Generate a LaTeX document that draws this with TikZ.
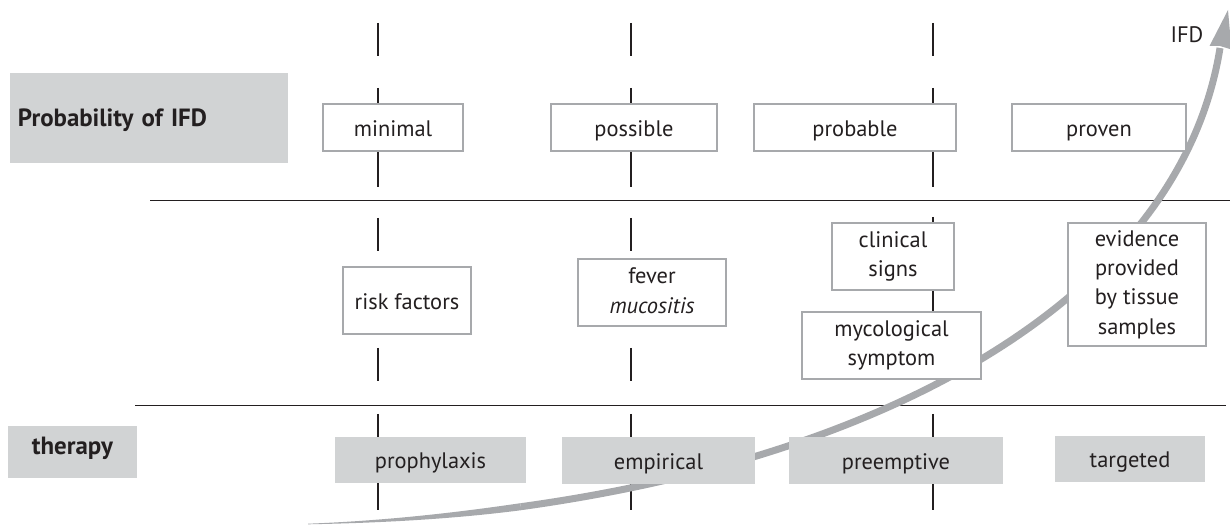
\documentclass[tikz,border=0pt]{standalone}
\usepackage{fontspec}
\setmainfont{PT Sans}
\definecolor{boxgray}{HTML}{A7A9AC}
\definecolor{fillgray}{HTML}{D1D3D4}
\definecolor{arrowgray}{HTML}{A7A9AC}
\definecolor{inkblack}{HTML}{231F20}
\newcommand\boxstrut{\vrule width0pt height22bp depth4bp\relax}
\newcommand\lowstrut{\vrule width0pt height15bp depth13bp\relax}
\begin{document}
\begin{tikzpicture}[x=1bp,y=-1bp,
  every node/.style={inner sep=0pt, outer sep=0pt, align=center, text=inkblack,
    font=\fontsize{22.5}{29.5}\selectfont},
  strutted/.style={execute at begin node=\boxstrut, execute at end node=\boxstrut},
  probbox/.style={strutted, draw=boxgray, line width=1.4bp, fill=white},
  termbox/.style={strutted, fill=fillgray},
  headbox/.style={fill=fillgray, font=\fontsize{25}{29}\selectfont\bfseries},
  tick/.style={draw=inkblack, line width=1.8bp},
  rule/.style={draw=inkblack, line width=1bp}]
\useasboundingbox (0,0) rectangle (1230,529);

% horizontal rules
\coordinate (r1a) at (150,201); \coordinate (r1b) at (1230,201);
\coordinate (r2a) at (135,406); \coordinate (r2b) at (1226,406);
\draw[rule] (r1a) -- (r1b);
\draw[rule] (r2a) -- (r2b);

% vertical dashed markers
\foreach \x in {378,631}{
  \draw[tick] (\x,23) -- (\x,56);
  \draw[tick] (\x,88) -- (\x,187);
  \draw[tick] (\x,218) -- (\x,251);
  \draw[tick] (\x,348) -- (\x,381);
  \draw[tick] (\x,414) -- (\x,510);
}
\draw[tick] (933,23) -- (933,56);
\draw[tick] (933,88) -- (933,187);
\draw[tick] (933,217) -- (933,380);
\draw[tick] (933,414) -- (933,510);

% IFD arrow: tapered tail, constant shaft, head
\coordinate (tail) at (308,524);
\coordinate (split) at (520.8,506.7);
\coordinate (shaftend) at (1220,48);
\coordinate (tip) at (1228,10);
\fill[arrowgray] (308,523.7) .. controls (381.8,520.9) and (452.5,513.2) .. (520.3,503.2)
  -- (521.3,510.2) .. controls (453.5,519.0) and (381.8,522.9) .. (308,524.3) -- cycle;
\draw[arrowgray, line width=7bp] (split) .. controls (905.1,453.7) and (1181.8,287.7) .. (shaftend);
\fill[arrowgray] (tip) -- (1231.5,49.5) -- (1220,46) -- (1209.5,46) -- cycle;
\node (ifd) at (1187,35) {IFD};

% labels on the left
\node[headbox, minimum height=90bp, text width=262bp, inner xsep=8bp, align=left,
  execute at begin node=\boxstrut] (prob) at (149,118) {Probability of IFD};
\node[headbox, minimum width=129bp, minimum height=52bp,
  execute at begin node=\lowstrut] (ther) at (72.5,452) {therapy};

% probability row
\node[probbox, minimum width=140bp, minimum height=47bp] (minimal) at (393,127.5) {minimal};
\node[probbox, minimum width=166bp, minimum height=47bp] (possible) at (634,127.5) {possible};
\node[probbox, minimum width=202bp, minimum height=47bp] (probable) at (855,127.5) {probable};
\node[probbox, minimum width=174bp, minimum height=47bp] (proven) at (1099,127.5) {proven};

% criteria row
\node[probbox, minimum width=128bp, minimum height=67bp] (risk) at (407,300.5) {risk factors};
\node[probbox, minimum width=148bp, minimum height=67bp] (fever) at (652,292.5) {fever\\\itshape mucositis};
\node[probbox, minimum width=122bp, minimum height=67bp] (clin) at (893,256.5) {clinical\\signs};
\node[probbox, minimum width=179bp, minimum height=67bp] (myco) at (891.5,345.5) {mycological\\symptom};
\node[probbox, minimum width=138bp, minimum height=123bp] (evid) at (1137,284.5) {evidence\\provided\\by tissue\\samples};

% therapy row
\node[termbox, minimum width=191bp, minimum height=46bp] (proph) at (430.5,460) {prophylaxis};
\node[termbox, minimum width=193bp, minimum height=46bp] (empir) at (658.5,460.5) {empirical};
\node[termbox, minimum width=214bp, minimum height=46bp] (preem) at (896,460.5) {preemptive};
\node[termbox, minimum width=150bp, minimum height=46bp] (targ) at (1130,459) {targeted};
\end{tikzpicture}
\end{document}
